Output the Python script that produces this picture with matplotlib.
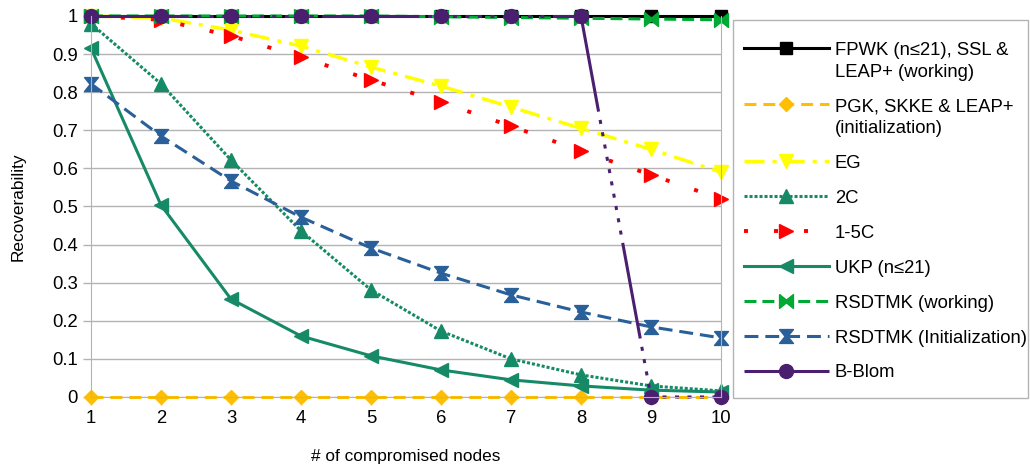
import matplotlib
matplotlib.use("Agg")
import matplotlib.pyplot as plt
from matplotlib.path import Path
from matplotlib.patches import Rectangle
from matplotlib.legend_handler import HandlerLine2D

plt.rcParams['font.family'] = ['Liberation Sans', 'DejaVu Sans']
plt.rcParams['lines.scale_dashes'] = False

# data
nodes = [1, 2, 3, 4, 5, 6, 7, 8, 9, 10]
fpwk = [1, 1, 1, 1, 1, 1, 1, 1, 1, 1]
pgk = [0, 0, 0, 0, 0, 0, 0, 0, 0, 0]
eg = [1.0, 0.995, 0.963, 0.921, 0.866, 0.816, 0.761, 0.705, 0.65, 0.59]
c2 = [0.98, 0.822, 0.622, 0.436, 0.281, 0.173, 0.1, 0.058, 0.029, 0.016]
c15 = [1.0, 0.99, 0.948, 0.892, 0.832, 0.774, 0.711, 0.646, 0.583, 0.52]
ukp = [0.916, 0.504, 0.257, 0.16, 0.108, 0.071, 0.045, 0.029, 0.018, 0.013]
rsd_work = [1, 1, 1, 1, 1, 0.998, 0.996, 0.994, 0.992, 0.99]
rsd_init = [0.822, 0.685, 0.567, 0.472, 0.391, 0.325, 0.268, 0.223, 0.184, 0.155]
bblom = [1, 1, 1, 1, 1, 1, 1, 1, 0, 0]

labels = ["FPWK (n≤21), SSL &\nLEAP+ (working)", "PGK, SKKE & LEAP+\n(initialization)",
          "EG", "2C", "1-5C", "UKP (n≤21)", "RSDTMK (working)",
          "RSDTMK (Initialization)", "B-Blom"]

# hourglass markers
hourglass = Path([(-1, 1), (1, 1), (0.2, 0), (1, -1), (-1, -1), (-0.2, 0), (-1, 1)])
bowtie = Path([(-1, 1), (0, 0.2), (1, 1), (1, -1), (0, -0.2), (-1, -1), (-1, 1)])

fig = plt.figure(figsize=(10.3, 4.66), dpi=100)
ax = fig.add_axes([0.0883, 0.1481, 0.6117, 0.8176])

lw = 2.2
kw = dict(clip_on=False)
ax.plot(nodes, fpwk, color='black', lw=lw, marker='s', ms=8, label=labels[0], **kw)
ax.plot(nodes, pgk, color='#ffbf00', lw=lw, dashes=(8.6, 5.0), marker='D', ms=7, label=labels[1], **kw)
ax.plot(nodes, eg, color='#ffff00', lw=2.5, dashes=(14.4, 5.8, 2.9, 5.8), marker='v', ms=10, label=labels[2], **kw)
ax.plot(nodes, c2, color='#168a66', lw=lw, dashes=(2.2, 1.4), marker='^', ms=10, label=labels[3], **kw)
ax.plot(nodes, c15, color='#ff0000', lw=2.8, dashes=(2.9, 18.7), marker='>', ms=10, label=labels[4], **kw)
ax.plot(nodes, ukp, color='#168a66', lw=lw, marker='<', ms=10, label=labels[5], **kw)
ax.plot(nodes, rsd_work, color='#00a933', lw=lw, dashes=(8.6, 4.3), marker=bowtie, ms=10, label=labels[6], **kw)
ax.plot(nodes, rsd_init, color='#2a6099', lw=lw, dashes=(10.0, 5.0), marker=hourglass, ms=10, label=labels[7], **kw)
bb_dash = (70, 6.1) + (2.9, 6.1) * 10
ax.plot(nodes[:8], bblom[:8], color='#4b1f6f', lw=lw, dashes=bb_dash, marker='o', ms=10, label=labels[8], **kw)
ax.plot(nodes[7:], bblom[7:], color='#4b1f6f', lw=lw, dashes=bb_dash, marker='o', ms=10, **kw)

ax.set_xlim(1, 10)
ax.set_ylim(0, 1)
ax.set_xticks(nodes)
yt = [i / 10 for i in range(11)]
ax.set_yticks(yt)
ax.set_yticklabels(["0"] + ["0.%d" % i for i in range(1, 10)] + ["1"])
ax.tick_params(labelsize=13.3, colors='#b3b3b3', labelcolor='black', length=6, width=1)
ax.grid(axis='y', color='#b3b3b3', lw=1)
ax.set_axisbelow(True)
for s in ['left', 'right', 'bottom']:
    ax.spines[s].set_color('#b3b3b3')
ax.spines['top'].set_visible(False)

ax.set_xlabel("# of compromised nodes", fontsize=12.4, labelpad=15.5)
ax.set_ylabel("Recoverability", fontsize=12.4, labelpad=19)


class TopHandler(HandlerLine2D):
    def __init__(self, shift, **kw):
        super().__init__(**kw)
        self.shift = shift

    def create_artists(self, legend, orig_handle, xdescent, ydescent, width, height, fontsize, trans):
        return super().create_artists(legend, orig_handle, xdescent, ydescent - self.shift * fontsize,
                                      width, height, fontsize, trans)


handles, labs = ax.get_legend_handles_labels()
hmap = {handles[0]: TopHandler(1.45), handles[1]: TopHandler(1.45)}
leg = fig.legend(handles, labs, loc='upper left', bbox_to_anchor=(0.7223, 0.9099),
                 borderaxespad=0, fontsize=13.3, handlelength=4.6, handletextpad=0.32,
                 labelspacing=0.97, borderpad=0, frameon=False, handler_map=hmap)
for t in leg.get_texts()[:2]:
    t.set_linespacing(1.35)

# legend frame
fig.patches.append(Rectangle((733 / 1030, 1 - 398 / 466), 295 / 1030, 378 / 466,
                             transform=fig.transFigure, fill=False, ec='#b3b3b3', lw=1))

fig.savefig("out.png", dpi=100)
